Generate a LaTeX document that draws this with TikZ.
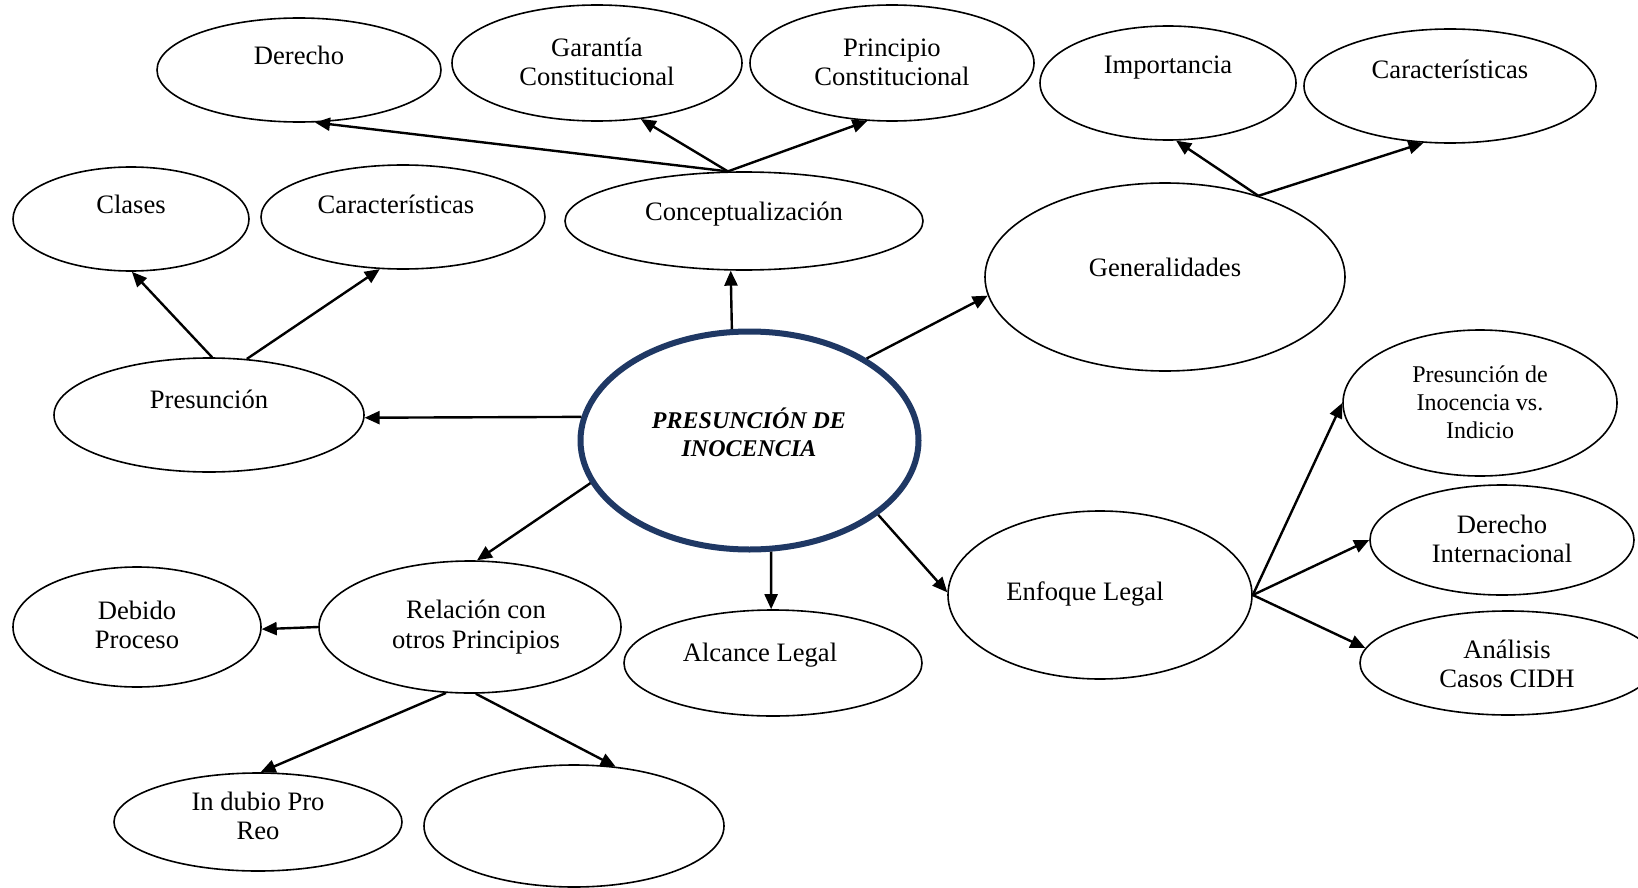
\documentclass[tikz,border=0pt]{standalone}
\usepackage{fontspec}
\setmainfont{Liberation Serif}
\usetikzlibrary{shapes.geometric,arrows.meta}
\definecolor{navy}{RGB}{31,56,100}
\begin{document}
\begin{tikzpicture}[x=0.5pt,y=-0.5pt,
  oval/.style={ellipse,draw=black,line width=0.8pt,inner sep=0pt},
  core/.style={ellipse,draw=navy,line width=3pt,inner sep=0pt},
  txt/.style={align=center,font=\fontsize{13.3}{14.6}\selectfont,inner sep=0pt},
  small/.style={align=center,font=\fontsize{12}{14}\selectfont,inner sep=0pt},
  link/.style={line width=1.2pt,-{Triangle[length=7.5pt,width=6.5pt]}}]
\useasboundingbox[fill=white] (0,0) rectangle (1638,888);

% ellipses (minimum width/height in pt equal the radii in drawing units)
\node[core,minimum width=169pt,minimum height=109pt] (cen) at (749.5,440.5) {};
\node[oval,minimum width=142pt,minimum height=52pt] (der) at (299,70) {};
\node[oval,minimum width=145pt,minimum height=58pt] (gar) at (597,63) {};
\node[oval,minimum width=142pt,minimum height=58pt] (pri) at (892,63) {};
\node[oval,minimum width=128pt,minimum height=57pt] (imp) at (1168,83) {};
\node[oval,minimum width=146pt,minimum height=57pt] (car2) at (1450,86) {};
\node[oval,minimum width=118pt,minimum height=52pt] (cla) at (131,219) {};
\node[oval,minimum width=142pt,minimum height=52pt] (car1) at (403,217) {};
\node[oval,minimum width=179pt,minimum height=49pt] (con) at (744,221) {};
\node[oval,minimum width=180pt,minimum height=94pt] (gen) at (1165,277) {};
\node[oval,minimum width=155pt,minimum height=57pt] (pre) at (209,415) {};
\node[oval,minimum width=137pt,minimum height=73pt] (piv) at (1480,403) {};
\node[oval,minimum width=132pt,minimum height=55pt] (din) at (1502,540) {};
\node[oval,minimum width=148pt,minimum height=52pt] (ana) at (1508,663) {};
\node[oval,minimum width=152pt,minimum height=84pt] (enf) at (1100,595) {};
\node[oval,minimum width=149pt,minimum height=53pt] (alc) at (773,663) {};
\node[oval,minimum width=151pt,minimum height=66pt] (rel) at (470,627) {};
\node[oval,minimum width=124pt,minimum height=60pt] (deb) at (137,627) {};
\node[oval,minimum width=144pt,minimum height=49pt] (ind) at (258,822) {};
\node[oval,minimum width=150pt,minimum height=61pt] (emp) at (574,826) {};

% texts
\node[align=center,inner sep=0pt,font=\fontsize{12}{14}\selectfont\bfseries\itshape] (cenT) at (749,432) {PRESUNCIÓN DE\\INOCENCIA};
\node[txt] (derT) at (299,55) {Derecho};
\node[txt] (garT) at (597,62) {Garantía\\Constitucional};
\node[txt] (priT) at (892,62) {Principio\\Constitucional};
\node[txt] (impT) at (1168,68) {Importancia};
\node[txt] (car2T) at (1450,69) {Características};
\node[txt] (claT) at (131,204) {Clases};
\node[txt] (car1T) at (396,204) {Características};
\node[txt] (conT) at (744,214) {Conceptualización};
\node[txt] (genT) at (1165,267) {Generalidades};
\node[txt] (preT) at (209,399) {Presunción};
\node[small] (pivT) at (1480,402) {Presunción de\\Inocencia vs.\\Indicio};
\node[txt] (dinT) at (1502,539) {Derecho\\Internacional};
\node[txt] (anaT) at (1507,664) {Análisis\\Casos CIDH};
\node[txt] (enfT) at (1085,594) {Enfoque Legal};
\node[txt] (alcT) at (760,655) {Alcance Legal};
\node[txt] (relT) at (476,627) {Relación con\\otros Principios};
\node[txt] (debT) at (137,625) {Debido\\Proceso};
\node[txt] (indT) at (258,816) {In dubio Pro\\Reo};

% connectors
\draw[link] (cen.99.7) -- (con.255.7);
\draw[link] (con.108) -- (der.287.1);
\draw[link] (con.108) -- (gar.308.7);
\draw[link] (con.108) -- (pri.247);
\draw[link] (cen.35.1) -- (gen.186.2);
\draw[link] (gen.41.4) -- (imp.278.4);
\draw[link] (gen.41.4) -- (car2.245.9);
\draw[link] (cen.172.1) -- (pre.359.3);
\draw[link] (pre.87) -- (cla.271);
\draw[link] (pre.56.8) -- (car1.246.3);
\draw[link] (cen.195.1) -- (rel.84.1);
\draw[link] (rel.180.8) -- (deb.359);
\draw[link] (rel.250.8) -- (ind.87.3);
\draw[link] (rel.275.2) -- (emp.55.1);
\draw[link] (cen.281) -- (alc.92.1);
\draw[link] (cen.330.8) -- (enf.179.2);
\draw[link] (enf.0) -- (piv.180.8);
\draw[link] (enf.0) -- (din.180.4);
\draw[link] (enf.0) -- (ana.174.3);
\end{tikzpicture}
\end{document}
